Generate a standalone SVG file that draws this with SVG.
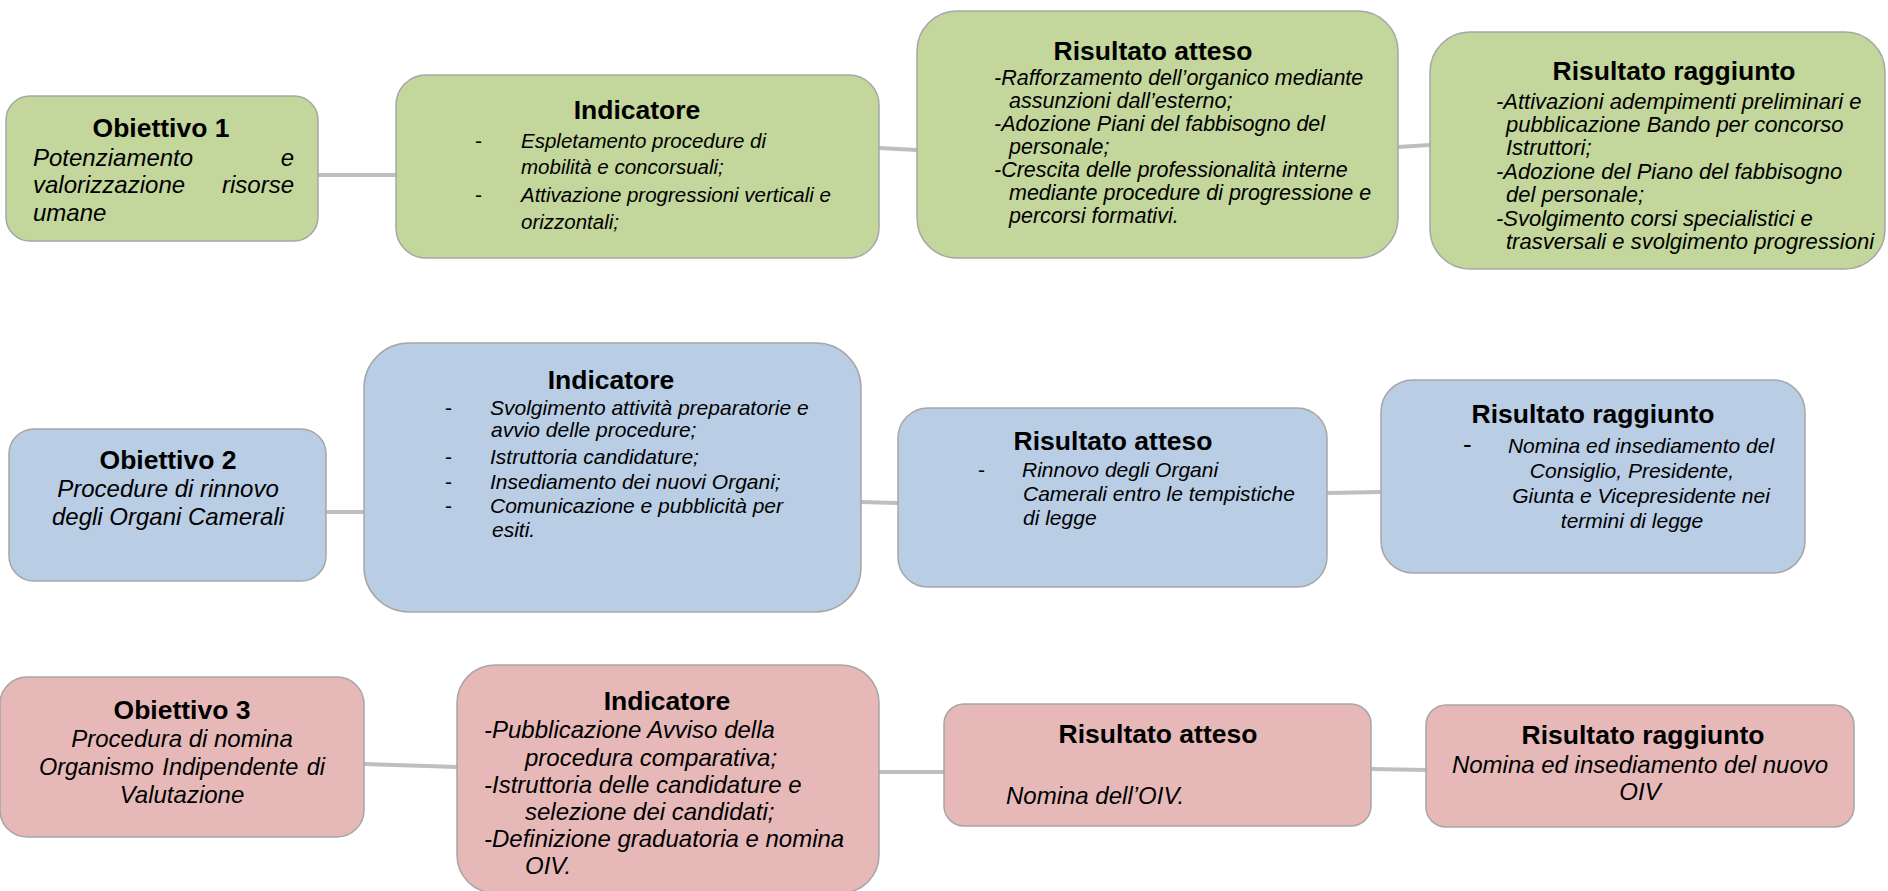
<svg xmlns="http://www.w3.org/2000/svg" width="1888" height="891" viewBox="0 0 1888 891">
<style>
.g{fill:#C3D69B;stroke:#A6A6A6;stroke-width:1.5}
.b{fill:#B9CDE5;stroke:#A6A6A6;stroke-width:1.5}
.r{fill:#E6B9B8;stroke:#A6A6A6;stroke-width:1.5}
.t{font-family:"Liberation Sans",Arial,sans-serif;font-weight:bold;font-size:26.5px;fill:#000;text-anchor:middle}
.s{font-family:"Liberation Sans",Arial,sans-serif;font-style:italic;font-size:21px;fill:#000}
.m{font-family:"Liberation Sans",Arial,sans-serif;font-style:italic;font-size:24px;fill:#000}
.d{font-family:"Liberation Sans",Arial,sans-serif;font-size:21px;fill:#000}
.c{text-anchor:middle}
.e{text-anchor:end}
.ln{stroke:#BFBFBF;stroke-width:4;fill:none}
</style>
<rect width="1888" height="891" fill="#FFFFFF"/>
<g id="connectors">
<line class="ln" x1="318" y1="175" x2="396" y2="175"/>
<line class="ln" x1="879" y1="148" x2="917" y2="150"/>
<line class="ln" x1="1398" y1="147" x2="1430" y2="145"/>
<line class="ln" x1="326" y1="512" x2="364" y2="512"/>
<line class="ln" x1="861" y1="502" x2="898" y2="503"/>
<line class="ln" x1="1327" y1="493" x2="1381" y2="492"/>
<line class="ln" x1="364" y1="764" x2="457" y2="767"/>
<line class="ln" x1="879" y1="772" x2="944" y2="772"/>
<line class="ln" x1="1371" y1="769" x2="1426" y2="770"/>
</g>
<g id="obiettivo1">
<rect class="g" x="6" y="96" width="312" height="145" rx="24"/>
<text class="t" x="161" y="137">Obiettivo 1</text>
<text class="m" x="33" y="166">Potenziamento</text>
<text class="m e" x="294" y="166">e</text>
<text class="m" x="33" y="193">valorizzazione</text>
<text class="m e" x="294" y="193">risorse</text>
<text class="m" x="33" y="221">umane</text>
</g>
<g id="indicatore1">
<rect class="g" x="396" y="75" width="483" height="183" rx="30"/>
<text class="t" x="637" y="119">Indicatore</text>
<text class="d" x="475" y="148">-</text>
<text class="s" x="521" y="148" style="font-size:20.5px">Espletamento procedure di</text>
<text class="s" x="521" y="174" style="font-size:20.5px">mobilità e concorsuali;</text>
<text class="d" x="475" y="202">-</text>
<text class="s" x="521" y="202" style="font-size:20.5px">Attivazione progressioni verticali e</text>
<text class="s" x="521" y="229" style="font-size:20.5px">orizzontali;</text>
</g>
<g id="risultato-atteso1">
<rect class="g" x="917" y="11" width="481" height="247" rx="40"/>
<text class="t" x="1153" y="60">Risultato atteso</text>
<text class="s" x="994" y="85" style="font-size:21.5px">-Rafforzamento dell’organico mediante</text>
<text class="s" x="1009" y="108" style="font-size:21.5px">assunzioni dall’esterno;</text>
<text class="s" x="994" y="131" style="font-size:21.5px">-Adozione Piani del fabbisogno del</text>
<text class="s" x="1009" y="154" style="font-size:21.5px">personale;</text>
<text class="s" x="994" y="177" style="font-size:21.5px">-Crescita delle professionalità interne</text>
<text class="s" x="1009" y="200" style="font-size:21.5px">mediante procedure di progressione e</text>
<text class="s" x="1009" y="223" style="font-size:21.5px">percorsi formativi.</text>
</g>
<g id="risultato-raggiunto1">
<rect class="g" x="1430" y="32" width="455" height="237" rx="40"/>
<text class="t" x="1674" y="80">Risultato raggiunto</text>
<text class="s" x="1496" y="109" style="font-size:22px">-Attivazioni adempimenti preliminari e</text>
<text class="s" x="1506" y="132" style="font-size:22px">pubblicazione Bando per concorso</text>
<text class="s" x="1506" y="155" style="font-size:22px">Istruttori;</text>
<text class="s" x="1496" y="179" style="font-size:22px">-Adozione del Piano del fabbisogno</text>
<text class="s" x="1506" y="202" style="font-size:22px">del personale;</text>
<text class="s" x="1496" y="226" style="font-size:22px">-Svolgimento corsi specialistici e</text>
<text class="s" x="1506" y="249" style="font-size:22px">trasversali e svolgimento progressioni</text>
</g>
<g id="obiettivo2">
<rect class="b" x="9" y="429" width="317" height="152" rx="25"/>
<text class="t" x="168" y="469">Obiettivo 2</text>
<text class="m c" x="168" y="497">Procedure di rinnovo</text>
<text class="m c" x="168" y="525">degli Organi Camerali</text>
</g>
<g id="indicatore2">
<rect class="b" x="364" y="343" width="497" height="269" rx="45"/>
<text class="t" x="611" y="389">Indicatore</text>
<text class="d" x="445" y="415">-</text>
<text class="s" x="490" y="415">Svolgimento attività preparatorie e</text>
<text class="s" x="491" y="437">avvio delle procedure;</text>
<text class="d" x="445" y="464">-</text>
<text class="s" x="490" y="464">Istruttoria candidature;</text>
<text class="d" x="445" y="489">-</text>
<text class="s" x="490" y="489">Insediamento dei nuovi Organi;</text>
<text class="d" x="445" y="513">-</text>
<text class="s" x="490" y="513">Comunicazione e pubblicità per</text>
<text class="s" x="492" y="537">esiti.</text>
</g>
<g id="risultato-atteso2">
<rect class="b" x="898" y="408" width="429" height="179" rx="30"/>
<text class="t" x="1113" y="450">Risultato atteso</text>
<text class="d" x="978" y="477">-</text>
<text class="s" x="1022" y="477">Rinnovo degli Organi</text>
<text class="s" x="1023" y="501">Camerali entro le tempistiche</text>
<text class="s" x="1023" y="525">di legge</text>
</g>
<g id="risultato-raggiunto2">
<rect class="b" x="1381" y="380" width="424" height="193" rx="32"/>
<text class="t" x="1593" y="423">Risultato raggiunto</text>
<text class="d" x="1463" y="453" style="font-size:26px">-</text>
<text class="s c" x="1641" y="453">Nomina ed insediamento del</text>
<text class="s c" x="1632" y="478">Consiglio, Presidente,</text>
<text class="s c" x="1641" y="503">Giunta e Vicepresidente nei</text>
<text class="s c" x="1632" y="528">termini di legge</text>
</g>
<g id="obiettivo3">
<rect class="r" x="0" y="677" width="364" height="160" rx="27"/>
<text class="t" x="182" y="719">Obiettivo 3</text>
<text class="m c" x="182" y="747">Procedura di nomina</text>
<text class="m c" x="182" y="775" style="font-size:23.5px" word-spacing="2">Organismo Indipendente di</text>
<text class="m c" x="182" y="803">Valutazione</text>
</g>
<g id="indicatore3">
<rect class="r" x="457" y="665" width="422" height="228" rx="38"/>
<text class="t" x="667" y="710">Indicatore</text>
<text class="m" x="484" y="738">-Pubblicazione Avviso della</text>
<text class="m" x="525" y="766">procedura comparativa;</text>
<text class="m" x="484" y="793">-Istruttoria delle candidature e</text>
<text class="m" x="525" y="820">selezione dei candidati;</text>
<text class="m" x="484" y="847">-Definizione graduatoria e nomina</text>
<text class="m" x="525" y="874">OIV.</text>
</g>
<g id="risultato-atteso3">
<rect class="r" x="944" y="704" width="427" height="122" rx="20"/>
<text class="t" x="1158" y="743">Risultato atteso</text>
<text class="m" x="1006" y="804">Nomina dell’OIV.</text>
</g>
<g id="risultato-raggiunto3">
<rect class="r" x="1426" y="705" width="428" height="122" rx="20"/>
<text class="t" x="1643" y="744">Risultato raggiunto</text>
<text class="m c" x="1640" y="773">Nomina ed insediamento del nuovo</text>
<text class="m c" x="1640" y="800">OIV</text>
</g>
</svg>
